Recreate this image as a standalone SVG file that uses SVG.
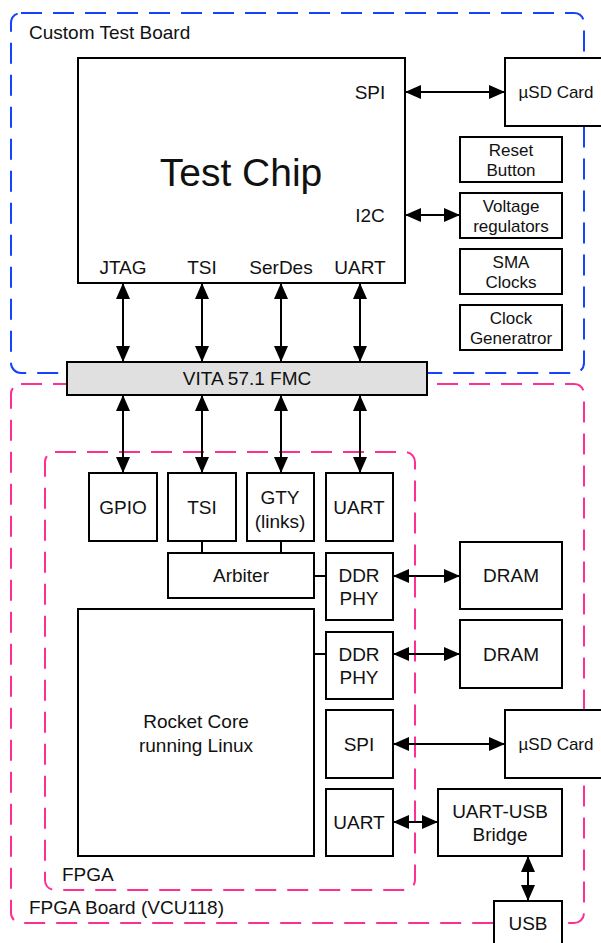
<svg xmlns="http://www.w3.org/2000/svg" width="601" height="943" viewBox="0 0 601 943">
  <style>
    text { font-family: "Liberation Sans", Arial, Helvetica, sans-serif; fill: #111; text-anchor: middle; }
    .lbl { font-size: 19px; }
    .sm { font-size: 17px; }
    .title { font-size: 39px; }
    .area { font-size: 19px; text-anchor: start; }
    .box { fill: #fff; stroke: #000; stroke-width: 2; }
    .fmc { fill: #e0e0e0; stroke: #000; stroke-width: 2; }
    .zone { fill: none; stroke-width: 2; stroke-dasharray: 21 11; }
    .blue { stroke: #1541ff; }
    .pink { stroke: #ff2f92; }
    .wire { stroke: #000; stroke-width: 2; fill: none; }
    .biarrow { stroke: #000; stroke-width: 2; fill: none; marker-start: url(#head); marker-end: url(#head); }
  </style>
  <defs>
    <marker id="head" markerUnits="userSpaceOnUse" viewBox="0 0 16 14" markerWidth="16" markerHeight="14" refX="16" refY="7" orient="auto-start-reverse">
      <path d="M0,0 L16,7 L0,14 z" fill="#000"/>
    </marker>
  </defs>

  <!-- board outlines -->
  <g id="custom-test-board">
    <rect class="zone blue" x="11" y="13" width="573" height="360" rx="10"/>
    <text class="area" x="29" y="39">Custom Test Board</text>
  </g>
  <g id="fpga-board">
    <rect class="zone pink" x="11" y="384" width="573" height="539" rx="10"/>
    <text class="area" x="29" y="914">FPGA Board (VCU118)</text>
  </g>
  <g id="fpga">
    <rect class="zone pink" x="45" y="452" width="370" height="438" rx="10"/>
    <text class="area" x="62" y="881">FPGA</text>
  </g>

  <!-- connectors -->
  <g id="connectors">
    <line class="biarrow" x1="405" y1="92" x2="505" y2="92"/>
    <line class="biarrow" x1="405" y1="215" x2="460" y2="215"/>
    <line class="biarrow" x1="123" y1="283" x2="123" y2="362"/>
    <line class="biarrow" x1="202" y1="283" x2="202" y2="362"/>
    <line class="biarrow" x1="281" y1="283" x2="281" y2="362"/>
    <line class="biarrow" x1="360" y1="283" x2="360" y2="362"/>
    <line class="biarrow" x1="123" y1="395" x2="123" y2="473"/>
    <line class="biarrow" x1="202" y1="395" x2="202" y2="473"/>
    <line class="biarrow" x1="281" y1="395" x2="281" y2="473"/>
    <line class="biarrow" x1="360" y1="395" x2="360" y2="473"/>
    <line class="wire" x1="202" y1="541" x2="202" y2="553"/>
    <line class="wire" x1="281" y1="541" x2="281" y2="553"/>
    <line class="wire" x1="314" y1="576" x2="326" y2="576"/>
    <line class="wire" x1="314" y1="654" x2="326" y2="654"/>
    <line class="biarrow" x1="393" y1="576" x2="460" y2="576"/>
    <line class="biarrow" x1="393" y1="654" x2="460" y2="654"/>
    <line class="biarrow" x1="393" y1="744" x2="505" y2="744"/>
    <line class="biarrow" x1="393" y1="822" x2="438" y2="822"/>
    <line class="biarrow" x1="528" y1="856" x2="528" y2="901"/>
  </g>

  <!-- custom test board parts -->
  <g id="test-chip">
    <rect class="box" x="78" y="58" width="327" height="225"/>
    <text class="title" x="241" y="186">Test Chip</text>
    <text class="lbl" x="370" y="99">SPI</text>
    <text class="lbl" x="370" y="222">I2C</text>
    <text class="lbl" x="123" y="274">JTAG</text>
    <text class="lbl" x="202" y="274">TSI</text>
    <text class="lbl" x="281" y="274">SerDes</text>
    <text class="lbl" x="360" y="274">UART</text>
  </g>
  <g id="usd-card-top">
    <rect class="box" x="505" y="58" width="101" height="68"/>
    <text class="sm" x="556" y="98">µSD Card</text>
  </g>
  <g id="reset-button">
    <rect class="box" x="460" y="137" width="102" height="45"/>
    <text class="sm" x="511" y="156">Reset</text>
    <text class="sm" x="511" y="176">Button</text>
  </g>
  <g id="voltage-regulators">
    <rect class="box" x="460" y="193" width="102" height="45"/>
    <text class="sm" x="511" y="212">Voltage</text>
    <text class="sm" x="511" y="232">regulators</text>
  </g>
  <g id="sma-clocks">
    <rect class="box" x="460" y="249" width="102" height="45"/>
    <text class="sm" x="511" y="268">SMA</text>
    <text class="sm" x="511" y="288">Clocks</text>
  </g>
  <g id="clock-generator">
    <rect class="box" x="460" y="305" width="102" height="45"/>
    <text class="sm" x="511" y="324">Clock</text>
    <text class="sm" x="511" y="344">Generatror</text>
  </g>
  <g id="fmc">
    <rect class="fmc" x="67" y="362" width="360" height="33"/>
    <text class="lbl" x="247" y="385">VITA 57.1 FMC</text>
  </g>

  <!-- FPGA blocks -->
  <g id="gpio">
    <rect class="box" x="89" y="473" width="68" height="68"/>
    <text class="lbl" x="123" y="514">GPIO</text>
  </g>
  <g id="tsi">
    <rect class="box" x="168" y="473" width="68" height="68"/>
    <text class="lbl" x="202" y="514">TSI</text>
  </g>
  <g id="gty">
    <rect class="box" x="247" y="473" width="67" height="68"/>
    <text class="lbl" x="280" y="504">GTY</text>
    <text class="lbl" x="280" y="528">(links)</text>
  </g>
  <g id="uart-fmc">
    <rect class="box" x="326" y="473" width="67" height="68"/>
    <text class="lbl" x="359" y="514">UART</text>
  </g>
  <g id="arbiter">
    <rect class="box" x="168" y="553" width="146" height="45"/>
    <text class="lbl" x="241" y="582">Arbiter</text>
  </g>
  <g id="ddr-phy-1">
    <rect class="box" x="326" y="553" width="67" height="67"/>
    <text class="lbl" x="359" y="582">DDR</text>
    <text class="lbl" x="359" y="605">PHY</text>
  </g>
  <g id="ddr-phy-2">
    <rect class="box" x="326" y="632" width="67" height="67"/>
    <text class="lbl" x="359" y="661">DDR</text>
    <text class="lbl" x="359" y="684">PHY</text>
  </g>
  <g id="rocket-core">
    <rect class="box" x="78" y="609" width="236" height="247"/>
    <text class="lbl" x="196" y="728">Rocket Core</text>
    <text class="lbl" x="196" y="752">running Linux</text>
  </g>
  <g id="spi">
    <rect class="box" x="326" y="710" width="67" height="68"/>
    <text class="lbl" x="359" y="751">SPI</text>
  </g>
  <g id="uart">
    <rect class="box" x="326" y="789" width="67" height="67"/>
    <text class="lbl" x="359" y="829">UART</text>
  </g>

  <!-- FPGA board peripherals -->
  <g id="dram-1">
    <rect class="box" x="460" y="542" width="102" height="67"/>
    <text class="lbl" x="511" y="582">DRAM</text>
  </g>
  <g id="dram-2">
    <rect class="box" x="460" y="620" width="102" height="68"/>
    <text class="lbl" x="511" y="661">DRAM</text>
  </g>
  <g id="usd-card-fpga">
    <rect class="box" x="505" y="710" width="101" height="68"/>
    <text class="sm" x="556" y="750">µSD Card</text>
  </g>
  <g id="uart-usb-bridge">
    <rect class="box" x="438" y="789" width="124" height="67"/>
    <text class="lbl" x="500" y="818">UART-USB</text>
    <text class="lbl" x="500" y="841">Bridge</text>
  </g>
  <g id="usb">
    <rect class="box" x="494" y="901" width="68" height="50"/>
    <text class="lbl" x="528" y="930">USB</text>
  </g>
</svg>
